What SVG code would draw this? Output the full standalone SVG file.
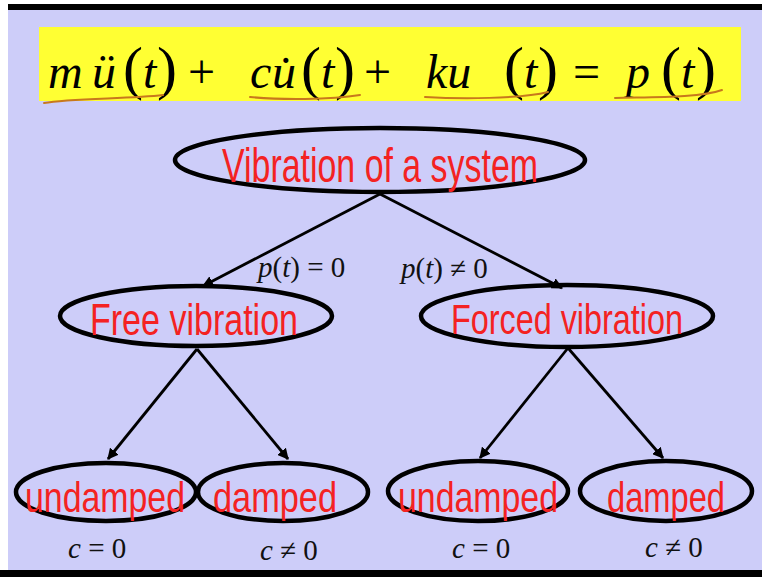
<svg xmlns="http://www.w3.org/2000/svg" width="762" height="577" viewBox="0 0 762 577">
<style>
.bg{fill:#CDCDF9}
.node{fill:none;stroke:#000;stroke-width:4.5}
.lbl{font-family:"Liberation Sans Narrow","Liberation Sans",Arial,sans-serif;fill:#F42222;text-anchor:middle}
.eq{font-family:"Liberation Serif","Times New Roman",serif;font-size:48px;fill:#000}
.it{font-style:italic}
.par{font-size:60px}
.math{font-family:"Liberation Serif","Times New Roman",serif;font-size:29px;fill:#111}
.ul{fill:none;stroke:#C8781C;stroke-width:2;stroke-linecap:round}
.conn{stroke:#000;stroke-width:2.8;fill:none;marker-end:url(#ah)}
</style>
<defs>
<marker id="ah" viewBox="0 0 10 10" refX="9" refY="5" markerWidth="4" markerHeight="4" orient="auto" markerUnits="strokeWidth">
<path d="M0,0 L10,5 L0,10 Z" fill="#000"/>
</marker>
</defs>
<rect width="762" height="577" fill="#FFFFFF"/>
<rect class="bg" x="8" y="10" width="754" height="560"/>
<rect x="8" y="4" width="754" height="6" fill="#000"/>
<rect x="0" y="570" width="762" height="7" fill="#000"/>

<g id="equation">
<rect x="39" y="27" width="702" height="74" fill="#FFFF33"/>
<text class="eq" y="88">
<tspan class="it" x="48">m</tspan>
<tspan class="it" x="92">ü</tspan>
<tspan class="par" x="123">(</tspan>
<tspan class="it" x="143">t</tspan>
<tspan class="par" x="157">)</tspan>
<tspan x="188">+</tspan>
<tspan class="it" x="250">c</tspan>
<tspan class="it" x="272">u̇</tspan>
<tspan class="par" x="301">(</tspan>
<tspan class="it" x="321">t</tspan>
<tspan class="par" x="335">)</tspan>
<tspan x="364">+</tspan>
<tspan class="it" x="426">ku</tspan>
<tspan class="par" x="504">(</tspan>
<tspan class="it" x="524">t</tspan>
<tspan class="par" x="538">)</tspan>
<tspan x="573">=</tspan>
<tspan class="it" x="626">p</tspan>
<tspan class="par" x="661">(</tspan>
<tspan class="it" x="681">t</tspan>
<tspan class="par" x="696">)</tspan>
</text>
<path class="ul" d="M44,103 C70,98 130,99 163,95"/>
<path class="ul" d="M250,97 C280,100 330,100 360,95"/>
<path class="ul" d="M425,97 C460,99 520,99 548,92"/>
<path class="ul" d="M615,98 C650,97 700,98 722,90"/>
</g>

<g id="connectors">
<line class="conn" x1="380" y1="194" x2="203" y2="286"/>
<line class="conn" x1="380" y1="194" x2="562" y2="288"/>
<line class="conn" x1="197" y1="349" x2="108" y2="459"/>
<line class="conn" x1="197" y1="349" x2="288" y2="459"/>
<line class="conn" x1="568" y1="348" x2="480" y2="458"/>
<line class="conn" x1="568" y1="348" x2="663" y2="458"/>
</g>

<g id="edge-labels">
<text class="math" x="258" y="277"><tspan class="it">p</tspan>(<tspan class="it">t</tspan>) = 0</text>
<text class="math" x="401" y="278"><tspan class="it">p</tspan>(<tspan class="it">t</tspan>) ≠ 0</text>
<text class="math" x="68" y="558"><tspan class="it">c</tspan> = 0</text>
<text class="math" x="260" y="560"><tspan class="it">c</tspan> ≠ 0</text>
<text class="math" x="452" y="558"><tspan class="it">c</tspan> = 0</text>
<text class="math" x="645" y="557"><tspan class="it">c</tspan> ≠ 0</text>
</g>

<g id="node-vibration">
<ellipse class="node" cx="380" cy="160" rx="205" ry="32"/>
<text class="lbl" x="380" y="182" font-size="48" textLength="316" lengthAdjust="spacingAndGlyphs">Vibration of a system</text>
</g>
<g id="node-free">
<ellipse class="node" cx="196" cy="316" rx="136" ry="30"/>
<text class="lbl" x="194" y="335" font-size="44" textLength="208" lengthAdjust="spacingAndGlyphs">Free vibration</text>
</g>
<g id="node-forced">
<ellipse class="node" cx="567" cy="316" rx="146" ry="31"/>
<text class="lbl" x="567" y="334" font-size="43" textLength="232" lengthAdjust="spacingAndGlyphs">Forced vibration</text>
</g>
<g id="node-free-undamped">
<ellipse class="node" cx="106" cy="492" rx="90" ry="29"/>
<text class="lbl" x="105" y="512" font-size="42" textLength="160" lengthAdjust="spacingAndGlyphs">undamped</text>
</g>
<g id="node-free-damped">
<ellipse class="node" cx="283" cy="492" rx="85" ry="29"/>
<text class="lbl" x="275" y="512" font-size="42" textLength="124" lengthAdjust="spacingAndGlyphs">damped</text>
</g>
<g id="node-forced-undamped">
<ellipse class="node" cx="478" cy="491" rx="90" ry="30"/>
<text class="lbl" x="478" y="512" font-size="42" textLength="160" lengthAdjust="spacingAndGlyphs">undamped</text>
</g>
<g id="node-forced-damped">
<ellipse class="node" cx="666" cy="491" rx="86" ry="30"/>
<text class="lbl" x="666" y="512" font-size="42" textLength="118" lengthAdjust="spacingAndGlyphs">damped</text>
</g>
</svg>
